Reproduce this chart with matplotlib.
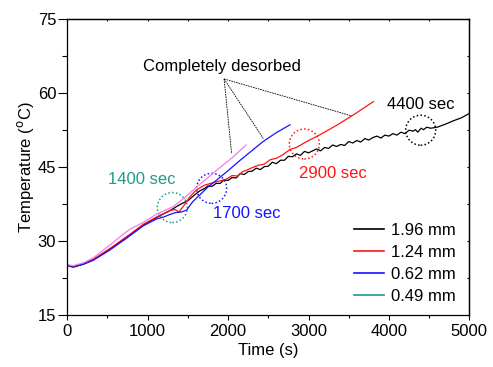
import matplotlib
matplotlib.use("Agg")
import matplotlib.pyplot as plt
from matplotlib.patches import Ellipse
from matplotlib.lines import Line2D

plt.rcParams['font.family'] = ['Liberation Sans', 'DejaVu Sans']

# 1.96 mm (black), including its visible jitter
t_196 = [0, 75, 200, 323, 531, 739, 946, 1112, 1278, 1400, 1500, 1600, 1650,
         1700, 1750, 1800, 1850, 1900, 1950, 2000, 2050, 2100, 2150, 2200, 2250, 2300, 2350,
         2400, 2450, 2500, 2550, 2600, 2650, 2700, 2750, 2800, 2850, 2900, 2950, 3000, 3050,
         3100, 3150, 3200, 3250, 3300, 3350, 3400, 3450, 3500, 3550, 3600, 3650, 3700, 3750,
         3800, 3850, 3900, 3950, 4000, 4050, 4100, 4150, 4200, 4250, 4300, 4330, 4360, 4400,
         4430, 4470, 4520, 4600, 4700, 4800, 4900, 5000]
T_196 = [25.0, 24.7, 25.3, 26.2, 28.4, 30.8, 33.3, 34.8, 36.2, 37.4, 38.2, 39.6, 40.2,
         40.6, 41.2, 41.1, 41.7, 41.7, 42.4, 42.3, 42.9, 42.8, 43.7, 43.5, 44.1, 44.2, 44.8,
         44.5, 45.1, 45.2, 46.0, 45.7, 46.4, 46.4, 47.2, 47.1, 47.7, 47.4, 48.2, 47.9, 48.3,
         48.7, 48.3, 49.0, 48.8, 49.5, 49.2, 49.6, 49.4, 50.2, 49.9, 50.4, 50.1, 50.8, 50.5,
         51.0, 51.3, 50.9, 51.5, 51.3, 51.8, 51.5, 52.1, 51.8, 52.5, 52.3, 52.6, 52.1, 52.9,
         52.6, 53.1, 52.9, 53.1, 53.7, 54.4, 55.0, 55.9]

# 1.24 mm (red)
t_124 = [0, 75, 200, 323, 531, 739, 946, 1112, 1278, 1340, 1390, 1450, 1520, 1600, 1700,
         1800, 1900, 1983, 2050, 2120, 2180, 2232, 2300, 2380, 2450, 2522, 2600, 2680, 2770,
         2850, 2978, 3144, 3350, 3558, 3807]
T_124 = [25.1, 24.9, 25.4, 26.3, 28.5, 30.9, 33.4, 34.9, 36.2, 36.4, 35.9, 37.2, 38.9, 40.3, 41.3,
         41.8, 42.2, 42.6, 43.3, 43.2, 44.1, 44.4, 44.9, 45.4, 45.6, 46.5, 46.8, 47.5, 48.6,
         49.0, 50.2, 51.6, 53.5, 55.6, 58.3]

# 0.62 mm (blue)
t_062 = [0, 75, 200, 323, 531, 739, 946, 1112, 1200, 1278, 1350, 1420, 1485, 1560, 1651,
         1750, 1859, 2000, 2150, 2300, 2435, 2600, 2770]
T_062 = [25.1, 24.9, 25.3, 26.1, 28.2, 30.6, 33.1, 34.5, 34.9, 35.4, 35.8, 35.9, 36.3, 38.0, 39.4,
         41.0, 42.4, 44.3, 46.4, 48.4, 50.2, 52.0, 53.6]

# 0.49 mm (violet line)
t_049 = [0, 75, 200, 323, 531, 680, 780, 946, 1112, 1319, 1450, 1610, 1750, 1859, 2050, 2223]
T_049 = [25.2, 25.0, 25.6, 26.6, 29.2, 31.2, 32.4, 33.8, 35.5, 37.0, 38.7, 41.0, 42.9, 44.4, 46.9, 49.5]

series_labels = ['1.96 mm', '1.24 mm', '0.62 mm', '0.49 mm']

# annotation circles and their labels
circle_t = [1306, 1795, 2948, 4395]
circle_T = [36.8, 40.7, 49.7, 52.5]
circle_text = ['1400 sec', '1700 sec', '2900 sec', '4400 sec']
text_t = [925, 2232, 3305, 4400]
text_T = [42.4, 35.5, 43.8, 57.8]

desorb_label = 'Completely desorbed'
desorb_label_pos = (1924, 65.5)
desorb_from = (1950, 62.9)
desorb_t = [2044, 2438, 3537]
desorb_T = [47.7, 50.8, 55.4]

teal = '#1f9a8c'
violet = '#f07ef0'
red = '#ff1414'
blue = '#1414ff'
colors_circ = [teal, blue, red, 'black']

FS = 12

fig = plt.figure(figsize=(4.93, 3.67), dpi=100)
ax = fig.add_axes([0.1365, 0.1417, 0.8155, 0.8057])

ax.plot(t_196, T_196, color='black', lw=0.9)
ax.plot(t_124, T_124, color=red, lw=0.9)
ax.plot(t_062, T_062, color=blue, lw=0.9)
ax.plot(t_049, T_049, color=violet, lw=0.9)

# dotted circles (~15 px radius)
w = 30 * 5000 / 402.0
h = 30 * 60 / 295.7
for ct, cT, c in zip(circle_t, circle_T, colors_circ):
    ax.add_patch(Ellipse((ct, cT), w, h, fill=False, ls=(0, (1, 1.5)), lw=1.1, ec=c))

for s, x, y, c in zip(circle_text, text_t, text_T, colors_circ):
    ax.text(x, y, s, color=c, fontsize=FS, ha='center', va='center')

ax.text(desorb_label_pos[0], desorb_label_pos[1], desorb_label, fontsize=FS, ha='center', va='center')
for x, y in zip(desorb_t, desorb_T):
    ax.plot([desorb_from[0], x], [desorb_from[1], y], color='black', lw=0.6, ls=(0, (2, 1)))

handles = [Line2D([], [], color=c, lw=1.2) for c in ['black', red, blue, teal]]
ax.legend(handles, series_labels, loc='lower right', frameon=False, fontsize=FS,
          handlelength=1.8, handletextpad=0.45, labelspacing=0.42, borderaxespad=0,
          borderpad=0.2, bbox_to_anchor=(0.975, 0.025))

ax.set_xlim(0, 5000)
ax.set_ylim(15, 75)
ax.set_xticks([0, 1000, 2000, 3000, 4000, 5000])
ax.set_xticks(range(500, 5000, 1000), minor=True)
ax.set_yticks([15, 30, 45, 60, 75])
ax.set_yticks([22.5, 37.5, 52.5, 67.5], minor=True)
ax.tick_params(axis='x', which='major', direction='out', length=3.3, width=0.8, labelsize=FS, pad=3)
ax.tick_params(axis='x', which='minor', direction='out', length=1.8, width=0.8)
ax.tick_params(axis='y', which='major', direction='out', length=6.5, width=0.8, labelsize=FS, pad=1.5)
ax.tick_params(axis='y', which='minor', direction='out', length=3.3, width=0.8)
for s in ax.spines.values():
    s.set_linewidth(0.9)

# tiny inward ticks on top and right spines
top = ax.secondary_xaxis('top')
top.set_xticks([0, 500, 1000, 1500, 2000, 2500, 3000, 3500, 4000, 4500, 5000])
top.tick_params(direction='in', length=1.5, width=0.8, labeltop=False)
top.spines['top'].set_linewidth(0.9)
right = ax.secondary_yaxis('right')
right.set_yticks([15, 22.5, 30, 37.5, 45, 52.5, 60, 67.5, 75])
right.tick_params(direction='in', length=1.5, width=0.8, labelright=False)
right.spines['right'].set_linewidth(0.9)

ax.set_xlabel('Time (s)', fontsize=FS, labelpad=3)
ax.set_ylabel('Temperature ($^{\\mathrm{o}}$C)', fontsize=FS, labelpad=1)

fig.savefig('out.png', dpi=100)
